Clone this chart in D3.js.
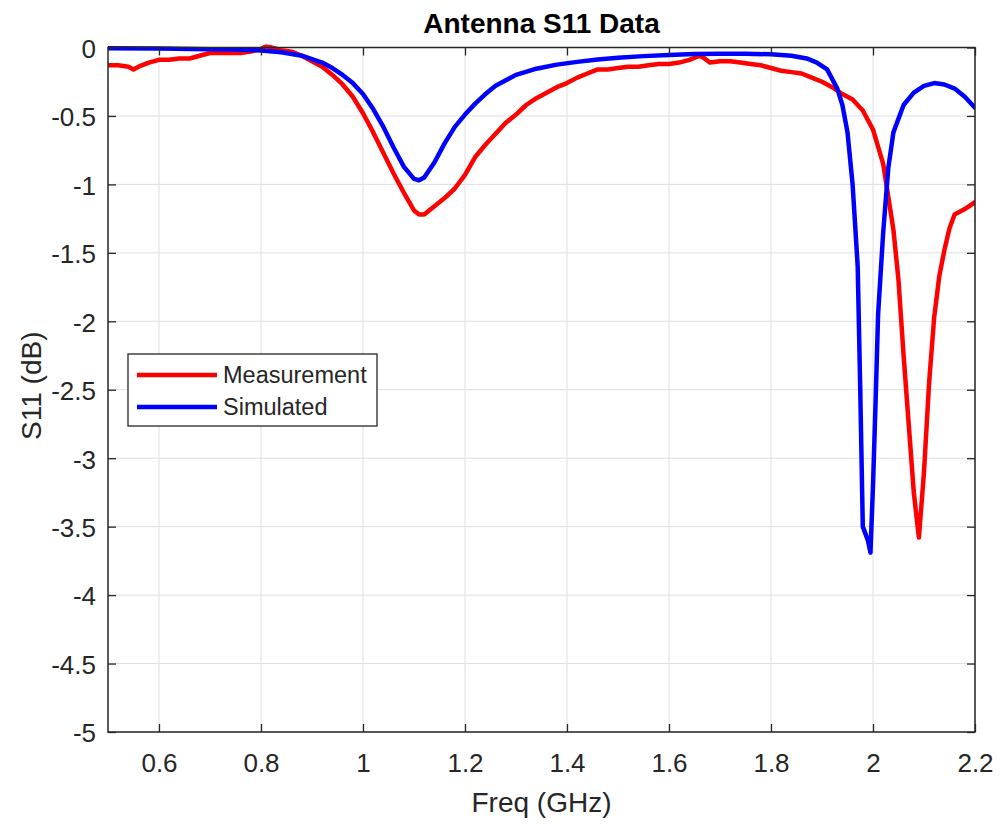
<!DOCTYPE html>
<html>
<head>
<meta charset="utf-8">
<script src="https://cdn.jsdelivr.net/npm/d3@7"></script>
<style>
  html, body { margin: 0; padding: 0; background: #fff; }
  svg { display: block; font-family: "Liberation Sans", Arial, Helvetica, sans-serif; }
</style>
</head>
<body>
<svg id="chart" width="1002" height="825"></svg>
<script>
// ---- Data ----
const titleText = "Antenna S11 Data";
const xLabel = "Freq (GHz)";
const yLabel = "S11 (dB)";
const seriesNames = ["Measurement", "Simulated"];
const seriesColors = ["#ff0000", "#0000ff"];

const xTicks = [0.6, 0.8, 1.0, 1.2, 1.4, 1.6, 1.8, 2.0, 2.2];
const xTickLabels = ["0.6", "0.8", "1", "1.2", "1.4", "1.6", "1.8", "2", "2.2"];
const yTicks = [0, -0.5, -1, -1.5, -2, -2.5, -3, -3.5, -4, -4.5, -5];
const yTickLabels = ["0", "-0.5", "-1", "-1.5", "-2", "-2.5", "-3", "-3.5", "-4", "-4.5", "-5"];

const measFreq = [0.50,0.52,0.54,0.55,0.56,0.58,0.60,0.62,0.64,0.66,0.68,0.70,0.72,0.74,0.76,0.78,0.80,0.81,0.82,0.84,0.86,0.88,0.90,0.92,0.94,0.96,0.98,1.00,1.02,1.04,1.06,1.08,1.10,1.11,1.12,1.14,1.16,1.18,1.20,1.22,1.24,1.26,1.28,1.30,1.32,1.34,1.36,1.38,1.40,1.42,1.44,1.46,1.48,1.50,1.52,1.54,1.56,1.58,1.60,1.62,1.64,1.66,1.67,1.68,1.70,1.72,1.74,1.76,1.78,1.80,1.82,1.84,1.86,1.88,1.90,1.92,1.94,1.96,1.98,2.00,2.02,2.04,2.05,2.06,2.07,2.08,2.09,2.10,2.11,2.12,2.13,2.14,2.15,2.16,2.18,2.20];
const measS11 = [-0.13,-0.13,-0.14,-0.16,-0.14,-0.11,-0.09,-0.09,-0.08,-0.08,-0.06,-0.04,-0.04,-0.04,-0.04,-0.03,-0.01,0.01,0.00,-0.02,-0.03,-0.06,-0.10,-0.14,-0.20,-0.27,-0.36,-0.48,-0.62,-0.77,-0.92,-1.06,-1.19,-1.22,-1.22,-1.16,-1.10,-1.03,-0.93,-0.80,-0.71,-0.63,-0.55,-0.49,-0.42,-0.37,-0.33,-0.29,-0.26,-0.22,-0.19,-0.16,-0.16,-0.15,-0.14,-0.14,-0.13,-0.12,-0.12,-0.11,-0.09,-0.06,-0.08,-0.11,-0.10,-0.10,-0.11,-0.12,-0.13,-0.15,-0.17,-0.18,-0.19,-0.22,-0.25,-0.29,-0.34,-0.38,-0.46,-0.60,-0.85,-1.33,-1.70,-2.25,-2.75,-3.25,-3.58,-3.10,-2.45,-1.97,-1.67,-1.48,-1.32,-1.22,-1.18,-1.13];

const simFreq = [0.50,0.60,0.70,0.75,0.80,0.84,0.88,0.90,0.92,0.94,0.96,0.98,1.00,1.02,1.04,1.06,1.08,1.10,1.11,1.12,1.14,1.16,1.18,1.20,1.22,1.24,1.26,1.28,1.30,1.34,1.38,1.42,1.46,1.50,1.55,1.60,1.65,1.70,1.75,1.80,1.84,1.87,1.89,1.91,1.93,1.94,1.95,1.96,1.97,1.975,1.98,1.99,1.995,2.00,2.005,2.01,2.02,2.03,2.04,2.06,2.08,2.10,2.12,2.14,2.16,2.18,2.20];
const simS11 = [-0.005,-0.008,-0.012,-0.015,-0.022,-0.035,-0.06,-0.085,-0.11,-0.15,-0.20,-0.26,-0.34,-0.45,-0.58,-0.73,-0.87,-0.96,-0.97,-0.95,-0.84,-0.70,-0.58,-0.49,-0.41,-0.34,-0.28,-0.24,-0.20,-0.155,-0.125,-0.105,-0.088,-0.075,-0.063,-0.055,-0.048,-0.045,-0.045,-0.05,-0.06,-0.08,-0.11,-0.16,-0.30,-0.42,-0.62,-1.0,-1.6,-2.5,-3.5,-3.6,-3.69,-3.2,-2.6,-1.95,-1.35,-0.88,-0.62,-0.42,-0.33,-0.28,-0.26,-0.27,-0.30,-0.36,-0.44];

// ---- Layout ----
const svg = d3.select("#chart");
const L = 108, R = 975, T = 47.5, B = 732;
const x = d3.scaleLinear().domain([0.5, 2.2]).range([L, R]);
const y = d3.scaleLinear().domain([-5, 0]).range([B, T]);
const axisColor = "#262626";
const tickLen = 8;

svg.append("rect").attr("x", 0).attr("y", 0).attr("width", 1002).attr("height", 825).attr("fill", "#fff");

// grid
const grid = svg.append("g");
grid.selectAll("line.gx").data(xTicks).join("line")
  .attr("x1", d => x(d)).attr("x2", d => x(d)).attr("y1", T).attr("y2", B)
  .attr("stroke", "#dfdfdf").attr("stroke-width", 1);
grid.selectAll("line.gy").data(yTicks).join("line")
  .attr("class", "gy")
  .attr("x1", L).attr("x2", R).attr("y1", d => y(d)).attr("y2", d => y(d))
  .attr("stroke", "#dfdfdf").attr("stroke-width", 1);

// lines
svg.append("clipPath").attr("id", "clip").append("rect")
  .attr("x", L).attr("y", T - 3).attr("width", R - L).attr("height", B - T + 3);

const series = [
  { name: seriesNames[0], color: seriesColors[0], xs: measFreq, ys: measS11 },
  { name: seriesNames[1], color: seriesColors[1], xs: simFreq, ys: simS11 }
];
const line = d3.line().x(d => x(d[0])).y(d => y(d[1]));
const lg = svg.append("g").attr("clip-path", "url(#clip)");
series.forEach(s => {
  lg.append("path")
    .datum(s.xs.map((f, i) => [f, s.ys[i]]))
    .attr("d", line)
    .attr("fill", "none")
    .attr("stroke", s.color)
    .attr("stroke-width", 4.5)
    .attr("stroke-linejoin", "round")
    .attr("stroke-linecap", "round");
});

// axes with d3 axis generators (ticks inward)
const xAxisB = d3.axisBottom(x).tickValues(xTicks).tickFormat((d, i) => xTickLabels[i]).tickSize(-tickLen).tickPadding(14);
const xAxisT = d3.axisTop(x).tickValues(xTicks).tickFormat("").tickSize(-tickLen);
const yAxisL = d3.axisLeft(y).tickValues(yTicks).tickFormat((d, i) => yTickLabels[i]).tickSize(-tickLen).tickPadding(14);
const yAxisR = d3.axisRight(y).tickValues(yTicks).tickFormat("").tickSize(-tickLen);

function styleAxis(g) {
  g.select(".domain").remove();
  g.selectAll(".tick line").attr("stroke", axisColor).attr("stroke-width", 1.3);
  g.selectAll(".tick text").attr("fill", axisColor).attr("font-size", 26)
    .attr("font-family", '"Liberation Sans", Arial, sans-serif');
}
const gxB = svg.append("g").attr("transform", `translate(0,${B})`).call(xAxisB).call(styleAxis);
gxB.selectAll(".tick text").attr("dy", null).attr("y", 40);
svg.append("g").attr("transform", `translate(0,${T})`).call(xAxisT).call(styleAxis);
const gyL = svg.append("g").attr("transform", `translate(${L},0)`).call(yAxisL).call(styleAxis);
gyL.selectAll(".tick text").attr("x", -12).attr("dy", "0.38em");
svg.append("g").attr("transform", `translate(${R},0)`).call(yAxisR).call(styleAxis);

// box
svg.append("rect").attr("x", L).attr("y", T).attr("width", R - L).attr("height", B - T)
  .attr("fill", "none").attr("stroke", axisColor).attr("stroke-width", 1.5);

// title and labels
svg.append("text").attr("x", (L + R) / 2).attr("y", 33).attr("text-anchor", "middle")
  .attr("font-size", 28).attr("font-weight", "bold").attr("fill", "#000").text(titleText);
svg.append("text").attr("x", (L + R) / 2).attr("y", 812).attr("text-anchor", "middle")
  .attr("font-size", 28).attr("fill", axisColor).text(xLabel);
svg.append("text").attr("transform", `translate(41,${(T + B) / 2 - 4}) rotate(-90)`)
  .attr("text-anchor", "middle").attr("font-size", 28).attr("fill", axisColor).text(yLabel);

// legend
const leg = svg.append("g");
leg.append("rect").attr("x", 128).attr("y", 354).attr("width", 249).attr("height", 72)
  .attr("fill", "#fff").attr("stroke", axisColor).attr("stroke-width", 1.3);
const legRows = [375, 407];
series.forEach((s, i) => {
  leg.append("line").attr("x1", 137).attr("x2", 217).attr("y1", legRows[i]).attr("y2", legRows[i])
    .attr("stroke", s.color).attr("stroke-width", 4.5);
  leg.append("text").attr("x", 223).attr("y", legRows[i]).attr("dy", "0.36em")
    .attr("font-size", 23.5).attr("fill", axisColor).text(s.name);
});
</script>
</body>
</html>
